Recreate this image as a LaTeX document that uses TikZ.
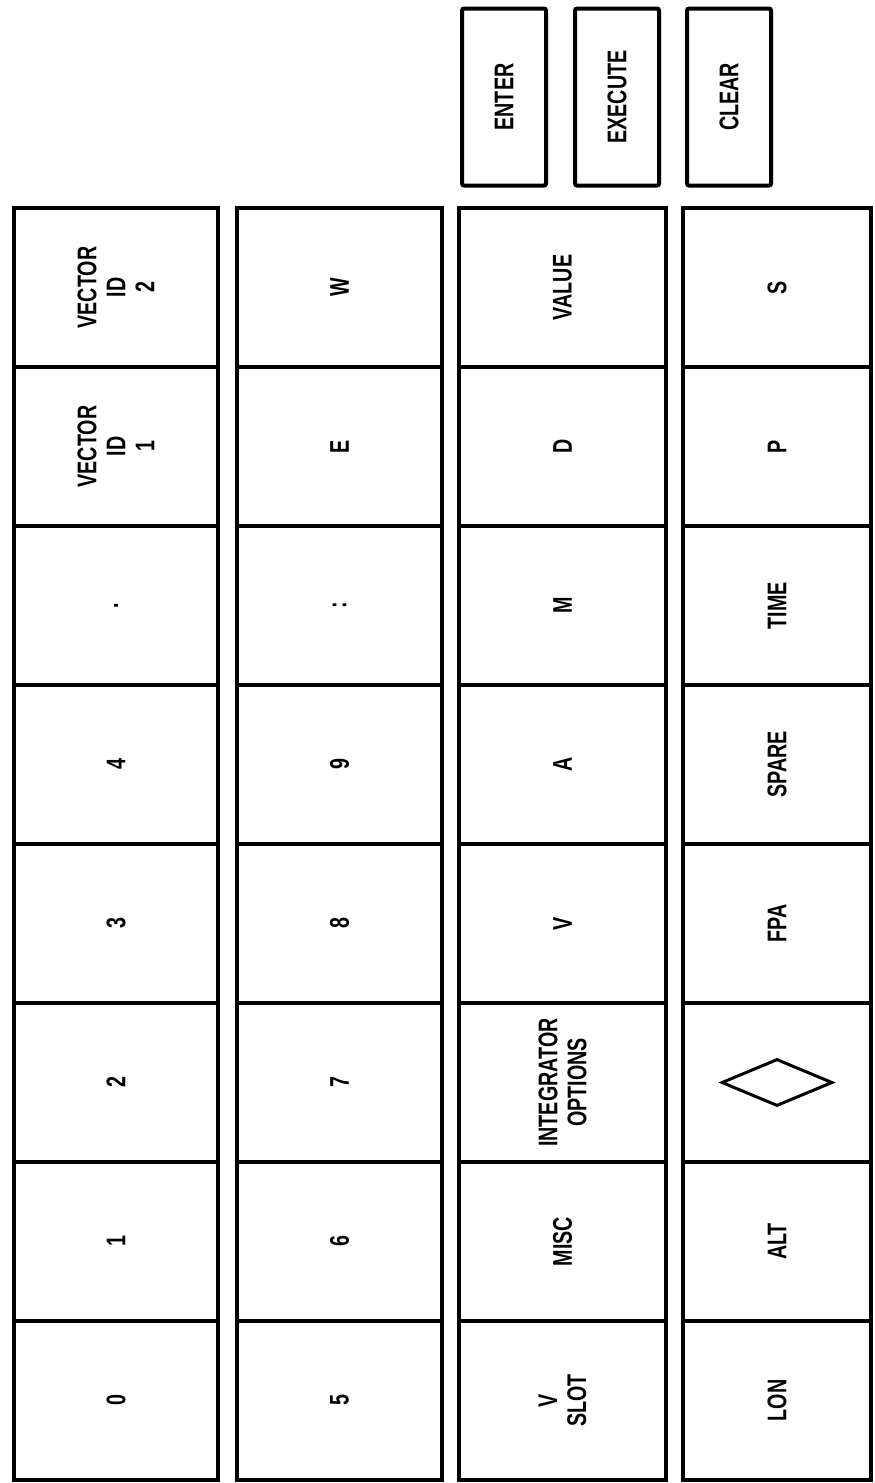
\documentclass[tikz,border=0pt]{standalone}
\usepackage{fontspec}
\newfontfamily\kf{Liberation Sans}[FakeStretch=0.73]
\usetikzlibrary{shapes.geometric}
\begin{document}
\begin{tikzpicture}[x=1pt,y=-1pt,
  keybox/.style={draw,line width=3.6pt,minimum height=159pt,inner sep=0pt},
  lbl/.style={rotate=90,font=\kf\bfseries\fontsize{27}{29}\selectfont,align=center,inner sep=0pt},
  topkey/.style={draw,line width=4pt,minimum width=84pt,minimum height=177pt,inner sep=0pt,rounded corners=2pt}]
\useasboundingbox (0,0) rectangle (875,1483);
\clip (0,0) rectangle (875,1483);
% top keys
\node[topkey] (enter) at (504,97) {};
\node[topkey] (execute) at (617,97) {};
\node[topkey] (clear) at (729,97) {};
\node[lbl] at (enter) {ENTER};
\node[lbl] at (execute) {EXECUTE};
\node[lbl] at (clear) {CLEAR};
% key columns
\foreach \j/\l/\r in {1/14/218,2/237/442,3/459/666,4/683/871}{
  \foreach \i in {1,...,8}{
    \node[keybox,minimum width={(\r-\l)*1pt}] (k-\j-\i) at ({(\l+\r)/2},{208+159*(\i-0.5)}) {};
  }
}
\foreach \i/\t in {1/{VECTOR\\ID\\2},2/{VECTOR\\ID\\1},3/{.},4/4,5/3,6/2,7/1,8/0}
  \node[lbl] at (k-1-\i) {\t};
\foreach \i/\t in {1/W,2/E,3/{:},4/9,5/8,6/7,7/6,8/5}
  \node[lbl] at (k-2-\i) {\t};
\foreach \i/\t in {1/VALUE,2/D,3/M,4/A,5/V,6/{INTEGRATOR\\OPTIONS},7/MISC,8/{V\\SLOT}}
  \node[lbl] at (k-3-\i) {\t};
\foreach \i/\t in {1/S,2/P,3/TIME,4/SPARE,5/FPA,7/ALT,8/LON}
  \node[lbl] at (k-4-\i) {\t};
\node[draw,diamond,line width=3pt,minimum width=111pt,minimum height=47pt,inner sep=0pt] (dia) at (k-4-6) {};
\end{tikzpicture}
\end{document}
